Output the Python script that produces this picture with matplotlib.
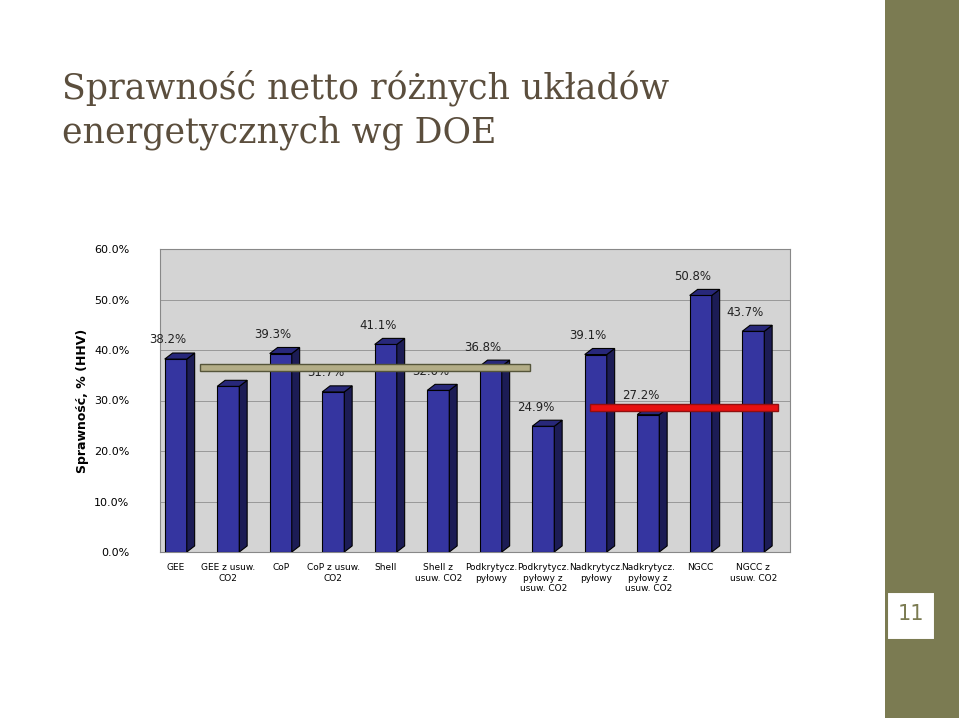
import matplotlib.pyplot as plt
import matplotlib.patches as patches

categories = ["GEE", "GEE z usuw.\nCO2", "CoP", "CoP z usuw.\nCO2", "Shell", "Shell z\nusuw. CO2",
              "Podkrytycz.\npyłowy", "Podkrytycz.\npyłowy z\nusuw. CO2", "Nadkrytycz.\npyłowy",
              "Nadkrytycz.\npyłowy z\nusuw. CO2", "NGCC", "NGCC z\nusuw. CO2"]
values = [38.2, 32.8, 39.3, 31.7, 41.1, 32.0, 36.8, 24.9, 39.1, 27.2, 50.8, 43.7]
show_label = [True, False, True, True, True, True, True, True, True, True, True, True]

fig = plt.figure(figsize=(9.59, 7.18), dpi=100)
fig.patch.set_facecolor("white")

# right decorative strip + page number
fig.add_artist(patches.Rectangle((885/959, 0), 74/959, 1, transform=fig.transFigure,
                                 facecolor="#7b7b52", edgecolor="none"))
fig.add_artist(patches.Rectangle((887/959, 78/718), 48/959, 48/718, transform=fig.transFigure,
                                 facecolor="white", edgecolor="#7b7b52", lw=1.5))
fig.text(911/959, 104/718, "11", ha="center", va="center", fontsize=15, color="#7b7b52")

fig.text(62/959, 608/718, "Sprawność netto różnych układów\nenergetycznych wg DOE",
         fontsize=25, family="DejaVu Serif", color="#5b4e3d", va="center", linespacing=1.35)

ax = fig.add_axes([160/959, 166/718, 630/959, 303/718])
ax.set_facecolor("#d4d4d4")
ax.set_xlim(-0.3, 11.7)
ax.set_ylim(0, 60)
ax.set_yticks(range(0, 61, 10))
ax.set_yticklabels([f"{t:.1f}%" for t in range(0, 61, 10)], fontsize=8)
ax.tick_params(axis="y", length=0, pad=22)
ax.set_xticks(range(len(categories)))
ax.set_xticklabels(categories, fontsize=6.5, va="top")
ax.tick_params(axis="x", length=0, pad=8)
for s in ax.spines.values():
    s.set_color("#888888")
    s.set_linewidth(0.8)
for t in range(10, 61, 10):
    ax.axhline(t, color="#999999", lw=0.7, zorder=0)
ax.set_ylabel("Sprawność, % (HHV)", fontsize=9, fontweight="bold", labelpad=4)

w, dx, dy = 0.42, 0.15, 1.2
for i, v in enumerate(values):
    x0 = i - w / 2
    ax.add_patch(patches.Rectangle((x0, 0), w, v, facecolor="#3535a0", edgecolor="black", lw=0.8, zorder=3))
    ax.add_patch(patches.Polygon([(x0 + w, 0), (x0 + w + dx, dy), (x0 + w + dx, v + dy), (x0 + w, v)],
                                 facecolor="#1c1c55", edgecolor="black", lw=0.8, zorder=3))
    ax.add_patch(patches.Polygon([(x0, v), (x0 + dx, v + dy), (x0 + w + dx, v + dy), (x0 + w, v)],
                                 facecolor="#28287a", edgecolor="black", lw=0.8, zorder=3))
    if show_label[i]:
        ax.text(i - 0.15, v + 2.5, f"{v:.1f}%", ha="center", va="bottom", fontsize=8.5, color="#222222", zorder=4)

ax.add_patch(patches.Rectangle((0.46, 35.8), 6.29, 1.5, facecolor="#b3ad87", edgecolor="#55553a", lw=1, zorder=5))
ax.add_patch(patches.Rectangle((7.89, 28.0), 3.58, 1.4, facecolor="#e81010", edgecolor="#901010", lw=1, zorder=5))

fig.savefig("out.png", dpi=100)
